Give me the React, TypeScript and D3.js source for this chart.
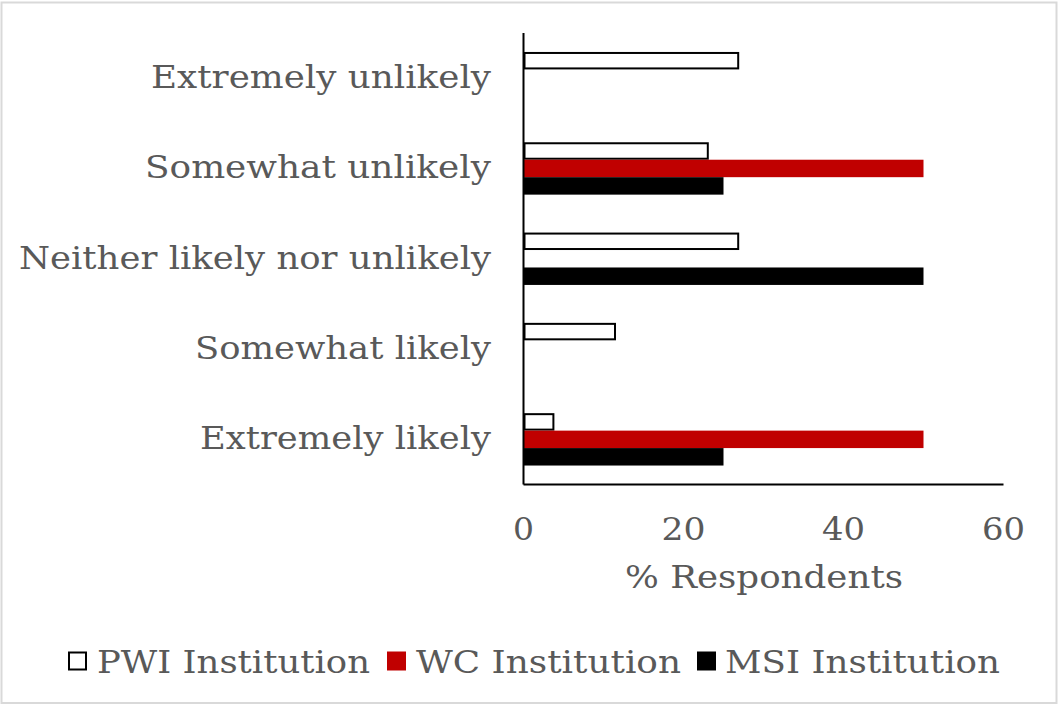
import React from "react";
import * as d3 from "d3";

const categories = [
  "Extremely unlikely",
  "Somewhat unlikely",
  "Neither likely nor unlikely",
  "Somewhat likely",
  "Extremely likely",
];
const seriesNames = ["PWI Institution", "WC Institution", "MSI Institution"];
const pwiValues = [26.9, 23.1, 26.9, 11.5, 3.8];
const wcValues = [0, 50, 0, 0, 50];
const msiValues = [0, 25, 50, 0, 25];
const xTicks = [0, 20, 40, 60];

const W = 1058;
const H = 704;
const FONT = "'DejaVu Serif', serif";
const FS = 32;
const TEXT = "#595959";

// Rendered text widths for the wide book-style face
const categoryWidths = [340, 346, 472, 296, 291];
const tickWidths = [21, 44, 43, 43];
const legendWidths = [273, 265, 275];

const seriesStyles = [
  { fill: "#ffffff", stroke: "#000000" },
  { fill: "#c00000", stroke: "none" },
  { fill: "#000000", stroke: "none" },
];

export default function App() {
  const left = 523.5;
  const right = 1003.5;
  const top = 33;
  const bottom = 484.5;

  const x = d3.scaleLinear().domain([0, 60]).range([left, right]);
  const y = d3.scaleBand<string>().domain(categories).range([top, bottom]).paddingInner(0.42).paddingOuter(0.21);
  const series = [pwiValues, wcValues, msiValues];
  const sub = d3.scaleBand<number>().domain([0, 1, 2]).range([0, y.bandwidth()]);
  const step = y.step();

  const legendItems = [
    { sx: 68, tx: 97 },
    { sx: 387, tx: 416 },
    { sx: 697, tx: 725 },
  ];

  return (
    <svg width={W} height={H} style={{ position: "absolute", left: 0, top: 0, background: "#fff" }}>
      <rect x={1.5} y={2.5} width={W - 3} height={H - 3.5} fill="#fff" stroke="#d9d9d9" strokeWidth={2} />
      {categories.map((c, i) => {
        const center = top + step * (i + 0.5);
        return (
          <g key={c}>
            {series.map((vals, s) =>
              vals[i] > 0 ? (
                <rect
                  key={s}
                  x={x(0) + (s === 0 ? 1 : 0.5)}
                  y={(y(c) as number) + (sub(s) as number) + (s === 0 ? 1 : 0)}
                  width={x(vals[i]) - x(0) - (s === 0 ? 1.5 : 0.5)}
                  height={sub.bandwidth() - (s === 0 ? 2 : 0)}
                  fill={seriesStyles[s].fill}
                  stroke={seriesStyles[s].stroke}
                  strokeWidth={2}
                />
              ) : null
            )}
            <text
              x={491}
              y={center + 10}
              textAnchor="end"
              fontFamily={FONT}
              fontSize={FS}
              fill={TEXT}
              textLength={categoryWidths[i]}
              lengthAdjust="spacingAndGlyphs"
            >
              {c}
            </text>
          </g>
        );
      })}
      <line x1={left} x2={left} y1={top} y2={bottom} stroke="#000" strokeWidth={2} />
      <line x1={left} x2={right} y1={bottom} y2={bottom} stroke="#000" strokeWidth={2} />
      {xTicks.map((t, i) => (
        <text
          key={t}
          x={x(t)}
          y={540}
          textAnchor="middle"
          fontFamily={FONT}
          fontSize={FS}
          fill={TEXT}
          textLength={tickWidths[i]}
          lengthAdjust="spacingAndGlyphs"
        >
          {t}
        </text>
      ))}
      <text
        x={764}
        y={588}
        textAnchor="middle"
        fontFamily={FONT}
        fontSize={FS}
        fill={TEXT}
        textLength={278}
        lengthAdjust="spacingAndGlyphs"
      >
        % Respondents
      </text>
      {seriesNames.map((n, s) => (
        <g key={n}>
          <rect
            x={legendItems[s].sx + (s === 0 ? 1 : 0)}
            y={651.5 + (s === 0 ? 1 : 0)}
            width={19 - (s === 0 ? 2 : 0)}
            height={19 - (s === 0 ? 2 : 0)}
            fill={seriesStyles[s].fill}
            stroke={seriesStyles[s].stroke}
            strokeWidth={2}
          />
          <text
            x={legendItems[s].tx}
            y={673}
            fontFamily={FONT}
            fontSize={FS}
            fill={TEXT}
            textLength={legendWidths[s]}
            lengthAdjust="spacingAndGlyphs"
          >
            {n}
          </text>
        </g>
      ))}
    </svg>
  );
}
